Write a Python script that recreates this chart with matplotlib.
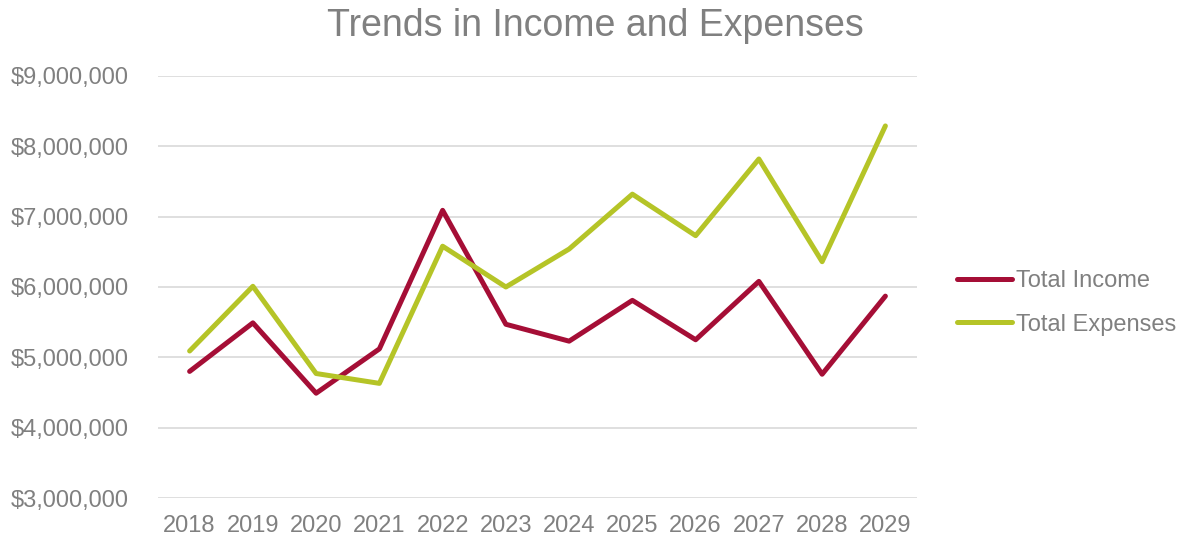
import matplotlib
matplotlib.use("Agg")
import matplotlib.pyplot as plt
from matplotlib.ticker import FuncFormatter

# data
years = ["2018", "2019", "2020", "2021", "2022", "2023", "2024", "2025", "2026", "2027", "2028", "2029"]
income = [4.80e6, 5.49e6, 4.49e6, 5.12e6, 7.09e6, 5.47e6, 5.23e6, 5.81e6, 5.25e6, 6.08e6, 4.76e6, 5.87e6]
expenses = [5.09e6, 6.01e6, 4.77e6, 4.63e6, 6.58e6, 6.00e6, 6.54e6, 7.32e6, 6.73e6, 7.82e6, 6.36e6, 8.29e6]

plt.rcParams['font.family'] = ['Liberation Sans', 'DejaVu Sans']
grey = '#808080'

fig = plt.figure(figsize=(11.89, 5.39), dpi=100)
ax = fig.add_axes([158 / 1189, 1 - 498 / 539, (917 - 158) / 1189, (498 - 76) / 539])

x = list(range(len(years)))
ax.plot(x, income, color='#A50E36', lw=3.6, label='Total Income', solid_capstyle='round')
ax.plot(x, expenses, color='#B5C427', lw=3.6, label='Total Expenses', solid_capstyle='round')

ax.set_xlim(-0.5, len(years) - 0.5)
ax.set_ylim(3e6, 9e6)
ax.set_yticks([3e6, 4e6, 5e6, 6e6, 7e6, 8e6, 9e6])
ax.yaxis.set_major_formatter(FuncFormatter(lambda v, p: "${:,.0f}".format(v)))
ax.set_xticks(x)
ax.set_xticklabels(years)

ax.grid(axis='y', color='#D9D9D9', lw=1.2)
ax.set_axisbelow(True)
for s in ax.spines.values():
    s.set_visible(False)
ax.tick_params(length=0, labelsize=17, colors=grey)
ax.tick_params(axis='x', pad=12)
ax.tick_params(axis='y', pad=21)

fig.suptitle("Trends in Income and Expenses", fontsize=27, color=grey, x=0.501, y=0.985)

leg = ax.legend(loc='center left', bbox_to_anchor=(1.025, 0.462), frameon=False,
                fontsize=17, handlelength=2.3, handletextpad=0.2, labelspacing=0.9)
for t in leg.get_texts():
    t.set_color(grey)

fig.savefig("out.png", dpi=100)
